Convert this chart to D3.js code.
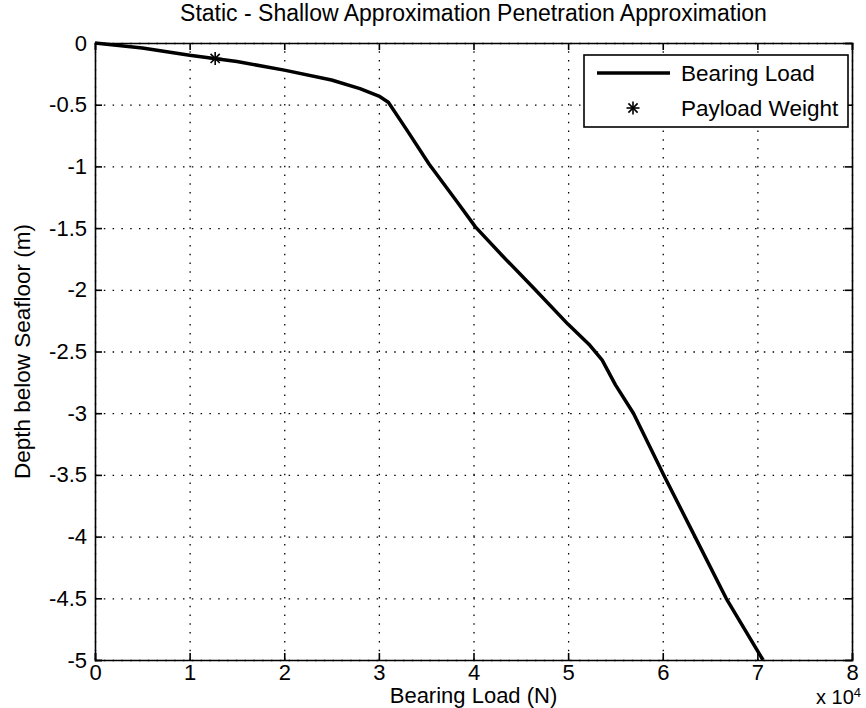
<!DOCTYPE html>
<html>
<head>
<meta charset="utf-8">
<script src="https://cdnjs.cloudflare.com/ajax/libs/d3/7.8.5/d3.min.js"></script>
<style>
  body { margin: 0; background: #fff; }
  text { font-family: "Liberation Sans", Arial, sans-serif; fill: #000; }
</style>
</head>
<body>
<svg class="chart" width="866" height="708"></svg>
<script>
// data (x in units of 10^4 N, depth in m)
var loadX = [0, 0.5, 1, 1.5, 2, 2.5, 2.8, 3.0, 3.1, 3.3, 3.53, 3.83, 4.02, 4.3, 4.64, 5.0, 5.23, 5.36, 5.5, 5.69, 6.01, 6.34, 6.67, 7.06];
var depthY = [0, -0.04, -0.1, -0.15, -0.22, -0.3, -0.37, -0.43, -0.48, -0.71, -0.98, -1.29, -1.49, -1.72, -1.99, -2.28, -2.45, -2.57, -2.77, -3.0, -3.5, -4.0, -4.5, -5.0];
var payloadX = [1.27];
var payloadY = [-0.125];
var xTicks = [0, 1, 2, 3, 4, 5, 6, 7, 8];
var yTicks = [0, -0.5, -1, -1.5, -2, -2.5, -3, -3.5, -4, -4.5, -5];
var legendLabels = ["Bearing Load", "Payload Weight"];

var svg = d3.select("svg.chart");
// plot box (note: "top" is a window global, so prefixed names)
var mLeft = 95, mRight = 852, mTop = 43, mBottom = 660;

var x = d3.scaleLinear().domain([0, 8]).range([mLeft, mRight]);
var y = d3.scaleLinear().domain([-5, 0]).range([mBottom, mTop]);

// grid (dotted)
svg.append("g")
    .attr("transform", "translate(0," + mBottom + ")")
    .call(d3.axisBottom(x).tickValues(xTicks).tickSize(-(mBottom - mTop)).tickFormat(""))
    .call(function(g) { g.select(".domain").remove(); })
    .selectAll("line")
    .attr("stroke", "#000").attr("stroke-width", 1.3).attr("stroke-dasharray", "1.5,7.3");

svg.append("g")
    .attr("transform", "translate(" + mLeft + ",0)")
    .call(d3.axisLeft(y).tickValues(yTicks).tickSize(-(mRight - mLeft)).tickFormat(""))
    .call(function(g) { g.select(".domain").remove(); })
    .selectAll("line")
    .attr("stroke", "#000").attr("stroke-width", 1.3).attr("stroke-dasharray", "1.5,7.3");

// axes with inward ticks on all sides
var xAxis = svg.append("g")
    .attr("transform", "translate(0," + mBottom + ")")
    .call(d3.axisBottom(x).tickValues(xTicks).tickSize(-7).tickPadding(10).tickFormat(d3.format("d")));
var xTop = svg.append("g")
    .attr("transform", "translate(0," + mTop + ")")
    .call(d3.axisTop(x).tickValues(xTicks).tickSize(-7).tickFormat(""));
var yAxis = svg.append("g")
    .attr("transform", "translate(" + mLeft + ",0)")
    .call(d3.axisLeft(y).tickValues(yTicks).tickSize(-7).tickPadding(8).tickFormat(function(d) { return d; }));
var yRight = svg.append("g")
    .attr("transform", "translate(" + mRight + ",0)")
    .call(d3.axisRight(y).tickValues(yTicks).tickSize(-7).tickFormat(""));

[xAxis, xTop, yAxis, yRight].forEach(function(g) {
    g.select(".domain").attr("stroke", "#000").attr("stroke-width", 1.6);
    g.selectAll(".tick line").attr("stroke", "#000").attr("stroke-width", 1.6);
    g.selectAll("text").style("font-size", "22px").attr("fill", "#000");
});
xAxis.selectAll("text").attr("dy", "0.45em");

// bearing load curve
var line = d3.line()
    .x(function(d, i) { return x(loadX[i]); })
    .y(function(d, i) { return y(depthY[i]); });

svg.append("path")
    .datum(loadX)
    .attr("d", line)
    .attr("fill", "none")
    .attr("stroke", "#000")
    .attr("stroke-width", 3.5)
    .attr("stroke-linejoin", "round");

// payload marker (asterisk)
function star(g, cx, cy, r) {
    [0, 45, 90, 135].forEach(function(a) {
        var rad = a * Math.PI / 180;
        g.append("line")
            .attr("x1", cx - r * Math.cos(rad)).attr("y1", cy - r * Math.sin(rad))
            .attr("x2", cx + r * Math.cos(rad)).attr("y2", cy + r * Math.sin(rad))
            .attr("stroke", "#000").attr("stroke-width", 1.6);
    });
}
payloadX.forEach(function(d, i) {
    star(svg, x(d), y(payloadY[i]), 6.5);
});

// title and labels
svg.append("text")
    .attr("x", (mLeft + mRight) / 2).attr("y", 21)
    .attr("text-anchor", "middle")
    .style("font-size", "23px")
    .text("Static - Shallow Approximation Penetration Approximation");

svg.append("text")
    .attr("x", (mLeft + mRight) / 2).attr("y", 703)
    .attr("text-anchor", "middle")
    .style("font-size", "22px")
    .text("Bearing Load (N)");

svg.append("text")
    .attr("transform", "translate(30," + (mTop + mBottom) / 2 + ") rotate(-90)")
    .attr("text-anchor", "middle")
    .style("font-size", "22.5px")
    .text("Depth below Seafloor (m)");

// exponent
var expo = svg.append("text")
    .attr("x", 816).attr("y", 704)
    .style("font-size", "20px");
expo.append("tspan").text("x 10");
expo.append("tspan").attr("dy", -7).style("font-size", "13px").text("4");

// legend
var legend = svg.append("g");
legend.append("rect")
    .attr("x", 584).attr("y", 55).attr("width", 264).attr("height", 72)
    .attr("fill", "#fff").attr("stroke", "#000").attr("stroke-width", 1.6);
legend.append("line")
    .attr("x1", 597).attr("x2", 670).attr("y1", 73).attr("y2", 73)
    .attr("stroke", "#000").attr("stroke-width", 3.5);
star(legend, 633, 108, 6.5);
legend.selectAll("text.leg")
    .data(legendLabels)
    .enter()
    .append("text")
    .attr("class", "leg")
    .attr("x", 681)
    .attr("y", function(d, i) { return 73 + i * 35; })
    .attr("dy", "0.36em")
    .style("font-size", "22.5px")
    .text(function(d) { return d; });
</script>
</body>
</html>
